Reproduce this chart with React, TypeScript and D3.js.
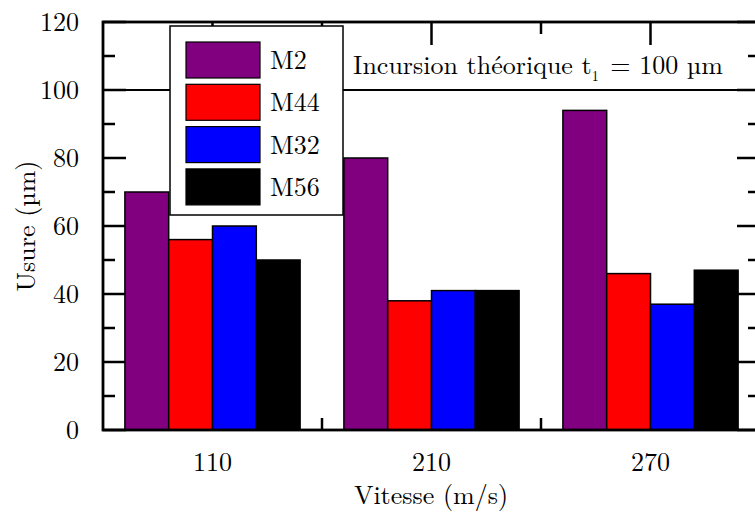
import React from "react";
import * as d3 from "d3";

const categories = ["110", "210", "270"];
const seriesNames = ["M2", "M44", "M32", "M56"];
const seriesColors = ["#800080", "#ff0000", "#0000ff", "#000000"];
const M2 = [70, 80, 94];
const M44 = [56, 38, 46];
const M32 = [60, 41, 37];
const M56 = [50, 41, 47];
const seriesValues = [M2, M44, M32, M56];
const yTicks = [0, 20, 40, 60, 80, 100, 120];
const yMinorTicks = [10, 30, 50, 70, 90, 110];
const refValue = 100;

const W = 755;
const H = 516;
const left = 103;
const right = 760;
const top = 22;
const bottom = 430;
const FONT = '"Latin Modern Roman", "Liberation Serif", serif';
const FS = 26;

export default function App() {
  const x = d3.scaleBand<string>().domain(categories).range([left, right]).paddingInner(0).paddingOuter(0);
  const inner = d3.scaleBand<string>().domain(seriesNames).range([0, x.bandwidth()]).paddingOuter(0.5).paddingInner(0);
  const y = d3.scaleLinear().domain([0, 120]).range([bottom, top]);
  const major = 23;
  const minor = 12;
  const bounds = categories.slice(1).map((c) => x(c) as number);
  const centers = categories.map((c) => (x(c) as number) + x.bandwidth() / 2);

  return (
    <div style={{ position: "absolute", left: 0, top: 0 }}>
      <svg width={W} height={H} style={{ display: "block", background: "#fff" }}>
        <rect x={0} y={0} width={W} height={H} fill="#fff" />
        {/* reference line */}
        <line x1={left} x2={right} y1={y(refValue)} y2={y(refValue)} stroke="#000" strokeWidth={2.2} />
        {/* y ticks left and right */}
        {yTicks.map((t) => (
          <g key={"yt" + t}>
            <line x1={left} x2={left + major} y1={y(t)} y2={y(t)} stroke="#000" strokeWidth={2.5} />
            <line x1={right} x2={right - major} y1={y(t)} y2={y(t)} stroke="#000" strokeWidth={2.5} />
            <text x={79} y={y(t)} dy="0.35em" textAnchor="end" fontFamily={FONT} fontSize={FS} fill="#000">
              {t}
            </text>
          </g>
        ))}
        {yMinorTicks.map((t) => (
          <g key={"ym" + t}>
            <line x1={left} x2={left + minor} y1={y(t)} y2={y(t)} stroke="#000" strokeWidth={2.5} />
            <line x1={right} x2={right - minor} y1={y(t)} y2={y(t)} stroke="#000" strokeWidth={2.5} />
          </g>
        ))}
        {/* x ticks */}
        {centers.map((cx, i) => (
          <g key={"xc" + i}>
            <line x1={cx} x2={cx} y1={top} y2={top + major} stroke="#000" strokeWidth={2.5} />
            <line x1={cx} x2={cx} y1={bottom} y2={bottom - major} stroke="#000" strokeWidth={2.5} />
            <text x={cx} y={471} textAnchor="middle" fontFamily={FONT} fontSize={FS} fill="#000">
              {categories[i]}
            </text>
          </g>
        ))}
        {bounds.map((bx, i) => (
          <g key={"xb" + i}>
            <line x1={bx} x2={bx} y1={top} y2={top + minor} stroke="#000" strokeWidth={2.5} />
            <line x1={bx} x2={bx} y1={bottom} y2={bottom - minor} stroke="#000" strokeWidth={2.5} />
          </g>
        ))}
        {/* bars */}
        {categories.map((c, ci) =>
          seriesNames.map((s, si) => {
            const v = seriesValues[si][ci];
            const bx = (x(c) as number) + (inner(s) as number);
            return (
              <rect
                key={c + s}
                x={bx}
                y={y(v)}
                width={inner.bandwidth()}
                height={y(0) - y(v)}
                fill={seriesColors[si]}
                stroke="#000"
                strokeWidth={1.5}
              />
            );
          })
        )}
        {/* frame */}
        <rect x={left} y={top} width={right - left} height={bottom - top} fill="none" stroke="#000" strokeWidth={2.8} />
        {/* legend */}
        <rect x={170} y={26} width={173} height={189} fill="#fff" stroke="#000" strokeWidth={1.5} />
        {seriesNames.map((s, i) => (
          <g key={"lg" + s}>
            <rect x={186} y={42 + i * 42.3} width={74} height={36} fill={seriesColors[i]} stroke="#000" strokeWidth={1.2} />
            <text x={270} y={42 + i * 42.3 + 18} dy="0.35em" fontFamily={FONT} fontSize={FS} fill="#000">
              {s}
            </text>
          </g>
        ))}
        {/* annotation */}
        <text x={353} y={74} fontFamily={FONT} fontSize={FS} fill="#000">
          Incursion théorique t
          <tspan fontSize={14} dy={7}>1</tspan>
          <tspan dy={-7} dx={3}> = 100 µm</tspan>
        </text>
        {/* axis titles */}
        <text x={431} y={504} textAnchor="middle" fontFamily={FONT} fontSize={FS} fill="#000">
          Vitesse (m/s)
        </text>
        <text transform={`translate(35, ${(top + bottom) / 2}) rotate(-90)`} textAnchor="middle" fontFamily={FONT} fontSize={FS} fill="#000">
          Usure (µm)
        </text>
      </svg>
    </div>
  );
}
